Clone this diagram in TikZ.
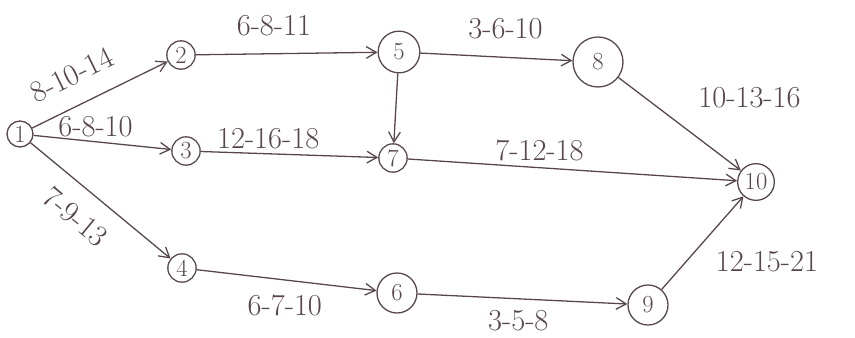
\documentclass[tikz,border=0pt]{standalone}
\usepackage{tikz}
\usetikzlibrary{arrows.meta,positioning}
\definecolor{ntink}{HTML}{574650}
\tikzset{
  evt/.style={draw=ntink,circle,line width=1.1pt,minimum size=8.5mm,inner sep=0pt,
              font=\fontsize{21}{21}\selectfont,text=ntink},
  bigevt/.style={evt,minimum size=12mm},
  ar/.style={-{Straight Barb[length=3mm,width=3.5mm]},line width=1.1pt,ntink},
  lab/.style={font=\fontsize{26}{26}\selectfont,text=ntink,inner sep=2pt},
}
\begin{document}
\begin{tikzpicture}[x=0.03cm,y=-0.03cm]
    \useasboundingbox (0,0) rectangle (855,338);
    % events
    \node[evt,minimum size=7.8mm] (e1) at (20,134) {1};
    \node[evt] (e2) at (181,55) {2};
    \node[evt] (e3) at (186,151) {3};
    \node[evt] (e4) at (182,268) {4};
    \node[bigevt,minimum size=12.5mm] (e5) at (399,52) {5};
    \node[bigevt] (e6) at (397,293) {6};
    \node[evt] (e7) at (393,158) {7};
    \node[bigevt,minimum size=15mm] (e8) at (598,62) {8};
    \node[bigevt] (e9) at (648,305) {9};
    \node[bigevt,minimum size=11mm] (e10) at (756,182) {10};
    % activities
    \draw[ar] (e1) -- node[lab,sloped,pos=0.39,above=5mm]{8-10-14} (e2);
    \draw[ar] (e1) -- node[lab,pos=0.45,above=0.5mm]{6-8-10} (e3);
    \draw[ar] (e1) -- node[lab,sloped,pos=0.45,below=4.5mm]{7-9-13} (e4);
    \draw[ar] (e2) -- node[lab,pos=0.43,above=4.5mm]{6-8-11} (e5);
    \draw[ar] (e3) -- node[lab,pos=0.38,above=0.5mm]{12-16-18} (e7);
    \draw[ar] (e4) -- node[lab,pos=0.49,below=3.5mm]{6-7-10} (e6);
    \draw[ar] (e5) -- (e7);
    \draw[ar] (e5) -- node[lab,pos=0.56,above=4.5mm]{3-6-10} (e8);
    \draw[ar] (e6) -- node[lab,pos=0.48,below=2.5mm]{3-5-8} (e9);
    \draw[ar] (e7) -- node[lab,pos=0.4,above=1mm]{7-12-18} (e10);
    \draw[ar] (e8) -- node[lab,pos=0.22,right=15mm]{10-13-16} (e10);
    \draw[ar] (e9) -- node[lab,pos=0.3,right=8mm]{12-15-21} (e10);
  \end{tikzpicture}
\end{document}
